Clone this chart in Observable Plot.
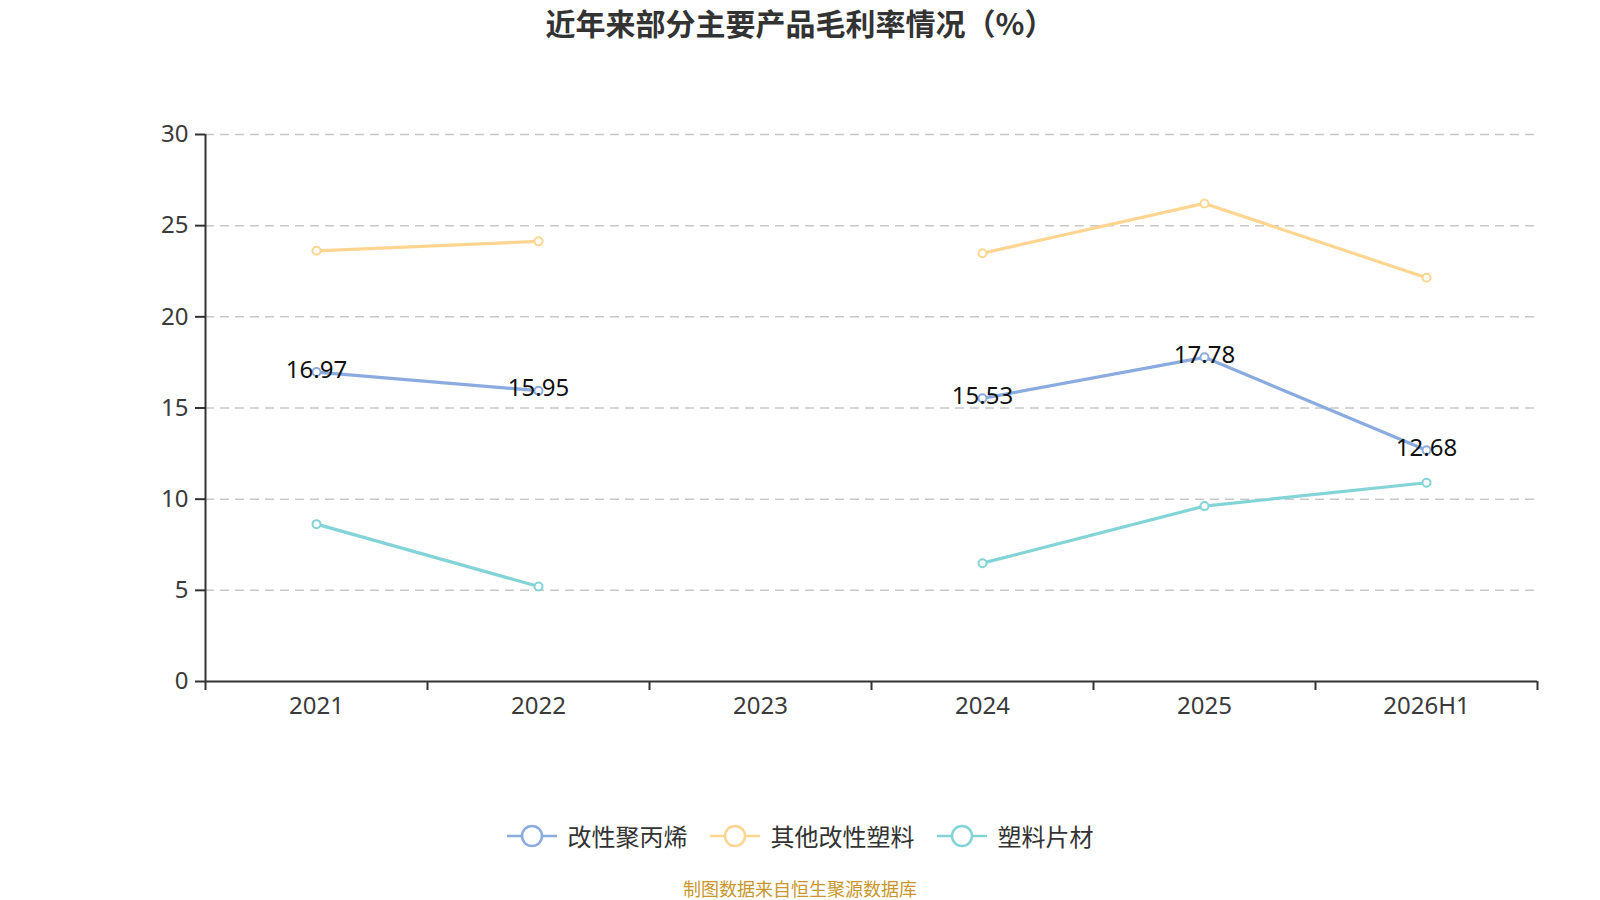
<!DOCTYPE html>
<html>
<head>
<meta charset="utf-8">
<script src="https://cdn.jsdelivr.net/npm/d3@7"></script>
<script src="https://cdn.jsdelivr.net/npm/@observablehq/plot@0.6"></script>
<style>
  html, body { margin: 0; padding: 0; background: #fff; }
  #wrap { position: relative; width: 1600px; height: 900px; overflow: hidden; font-family: "Noto Sans CJK SC", "Noto Sans", sans-serif; }
  #title { position: absolute; left: 0; width: 1600px; top: 2px; text-align: center; font-size: 30px; font-weight: bold; color: #333; line-height: 40px; }
  #chart { position: absolute; left: 0; top: 0; }
  #legend { position: absolute; left: 0; width: 1600px; top: 818px; display: flex; justify-content: center; align-items: center; font-size: 24px; color: #333; }
  .item { display: flex; align-items: center; margin: 0 11px; }
  .item svg { margin-right: 11px; }
  #caption { position: absolute; left: 0; width: 1600px; top: 875px; text-align: center; font-size: 18px; color: #c9962b; line-height: 26px; }
</style>
</head>
<body>
<div id="wrap">
  <div id="title">近年来部分主要产品毛利率情况（%）</div>
  <div id="chart"></div>
  <div id="legend"></div>
  <div id="caption">制图数据来自恒生聚源数据库</div>
</div>
<script>
const categories = ["2021", "2022", "2023", "2024", "2025", "2026H1"];
const seriesNames = ["改性聚丙烯", "其他改性塑料", "塑料片材"];
const modifiedPP = [16.97, 15.95, null, 15.53, 17.78, 12.68];
const otherModified = [23.62, 24.14, null, 23.49, 26.22, 22.14];
const plasticSheet = [8.63, 5.21, null, 6.49, 9.62, 10.90];
const colors = ["#8aabdf", "#ffd591", "#82d4d6"];
const yTicks = [0, 5, 10, 15, 20, 25, 30];

const seriesValues = [modifiedPP, otherModified, plasticSheet];
const data = seriesValues.flatMap((vals, si) =>
  vals.map((v, i) => ({ s: seriesNames[si], xi: i + 0.5, v: v }))
);
const labelData = data.filter(d => d.s === seriesNames[0] && d.v != null);
const font = "'Noto Sans', 'Noto Sans CJK SC', sans-serif";

const chart = Plot.plot({
  width: 1600,
  height: 760,
  marginTop: 134,
  marginBottom: 79,
  marginLeft: 205,
  marginRight: 63,
  x: { type: "linear", domain: [0, categories.length] },
  y: { domain: [0, 30] },
  color: { domain: seriesNames, range: colors },
  style: { fontFamily: font, background: "transparent", color: "#333" },
  marks: [
    Plot.gridY(yTicks.filter(t => t > 0), { stroke: "#c8c8c8", strokeOpacity: 1, strokeWidth: 1.5, strokeDasharray: "9,6" }),
    Plot.axisY({ ticks: yTicks, tickSize: 10, tickPadding: 7, stroke: "#333", strokeWidth: 2, fill: "#3a3a3a", fontSize: 24, tickFormat: d => String(d), label: null }),
    Plot.axisX({ ticks: d3.range(0, categories.length + 1), tickSize: 9, stroke: "#333", strokeWidth: 2, tickFormat: () => "", label: null }),
    Plot.axisX({ ticks: categories.map((c, i) => i + 0.5), tickSize: 0, tickPadding: 15, fill: "#3a3a3a", fontSize: 24, tickFormat: d => categories[Math.floor(d)], label: null }),
    Plot.ruleX([0], { stroke: "#333", strokeWidth: 2 }),
    Plot.ruleY([0], { stroke: "#333", strokeWidth: 2 }),
    Plot.line(data, { x: "xi", y: "v", z: "s", stroke: "s", strokeWidth: 3.2 }),
    Plot.dot(data, { x: "xi", y: "v", stroke: "s", fill: "white", r: 4, strokeWidth: 2 }),
    Plot.text(labelData, { x: "xi", y: "v", text: d => d.v.toFixed(2), dy: -2, fontSize: 24, fill: "#111" })
  ]
});
document.getElementById("chart").appendChild(chart);

const legend = document.getElementById("legend");
seriesNames.forEach((name, i) => {
  const item = document.createElement("div");
  item.className = "item";
  item.innerHTML =
    `<svg width="50" height="26" viewBox="0 0 50 26">
       <line x1="0" y1="13" x2="50" y2="13" stroke="${colors[i]}" stroke-width="2.5"/>
       <circle cx="25" cy="13" r="10" fill="white" stroke="${colors[i]}" stroke-width="2.5"/>
     </svg><span>${name}</span>`;
  legend.appendChild(item);
});
</script>
</body>
</html>
